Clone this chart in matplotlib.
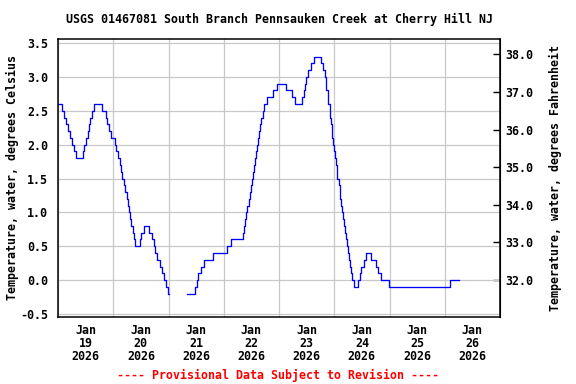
import datetime
import numpy as np
import matplotlib
matplotlib.use("Agg")
import matplotlib.pyplot as plt
import matplotlib.dates as mdates

# hours after 2026-01-19 00:00 at which each reading starts, and the reading (deg C)
seg1_hours = [0, 1.9, 2.7, 3.6, 4.5, 5.4, 6.2, 7.1, 8.0, 11.0, 11.5, 12.1, 12.9, 13.4,
              13.8, 14.7, 15.8, 19.3, 20.8, 21.5, 22.3, 23.1, 24.6, 25.3, 26.0, 26.8,
              27.2, 27.8, 28.5, 29.2, 29.8, 30.3, 30.7, 31.3, 31.7, 32.4, 33.0, 33.6,
              35.5, 36.1, 37.3, 39.4, 40.9, 41.7, 42.3, 43.2, 44.2, 45.2, 46.0, 47.0,
              47.9, 48.4]
seg1_temps = [2.6, 2.5, 2.4, 2.3, 2.2, 2.1, 2.0, 1.9, 1.8, 1.9, 2.0, 2.1, 2.2, 2.3,
              2.4, 2.5, 2.6, 2.5, 2.4, 2.3, 2.2, 2.1, 2.0, 1.9, 1.8, 1.7,
              1.6, 1.5, 1.4, 1.3, 1.2, 1.1, 1.0, 0.9, 0.8, 0.7, 0.6, 0.5,
              0.6, 0.7, 0.8, 0.7, 0.6, 0.5, 0.4, 0.3, 0.2, 0.1, 0.0, -0.1,
              -0.2, -0.2]

seg2_hours = [55.9, 59.5, 60.4, 60.9, 62.0, 63.3, 67.5, 73.3, 75.1, 80.4, 80.9, 81.3,
              81.7, 82.3, 82.9, 83.5, 83.8, 84.2, 84.7, 85.1, 85.5, 85.9, 86.4, 86.7,
              87.1, 87.7, 88.1, 89.0, 89.6, 91.0, 93.6, 95.1, 99.2, 101.8, 103.0, 106.2,
              106.8, 107.4, 107.9, 108.8, 110.0, 111.2, 114.1, 115.1, 115.8, 116.2, 116.6,
              117.1, 117.5, 118.0, 118.3, 118.6, 118.9, 119.2, 119.5, 120.0, 120.3, 120.7,
              121.0, 121.3, 121.9, 122.3, 122.6, 122.9, 123.5, 123.8, 124.1, 124.5, 125.1,
              125.5, 126.0, 126.2, 126.7, 127.1, 127.5, 128.7, 130.2, 131.0, 131.8, 133.0,
              134.0, 136.1, 138.0, 139.1, 140.5, 143.9, 170.4, 174.0]
seg2_temps = [-0.2, -0.1, 0.0, 0.1, 0.2, 0.3, 0.4, 0.5, 0.6, 0.7, 0.8, 0.9,
              1.0, 1.1, 1.2, 1.3, 1.4, 1.5, 1.6, 1.7, 1.8, 1.9, 2.0, 2.1,
              2.2, 2.3, 2.4, 2.5, 2.6, 2.7, 2.8, 2.9, 2.8, 2.7, 2.6, 2.7,
              2.8, 2.9, 3.0, 3.1, 3.2, 3.3, 3.2, 3.1, 3.0, 2.9, 2.8,
              2.7, 2.6, 2.5, 2.4, 2.3, 2.2, 2.1, 2.0, 1.9, 1.8, 1.7,
              1.6, 1.5, 1.4, 1.3, 1.2, 1.1, 1.0, 0.9, 0.8, 0.7, 0.6,
              0.5, 0.4, 0.3, 0.2, 0.1, 0.0, -0.1, 0.0, 0.1, 0.2, 0.3,
              0.4, 0.3, 0.2, 0.1, 0.0, -0.1, 0.0, 0.0]

start = datetime.datetime(2026, 1, 19)
day_labels = ["19", "20", "21", "22", "23", "24", "25", "26"]
left_ticks = [-0.5, 0.0, 0.5, 1.0, 1.5, 2.0, 2.5, 3.0, 3.5]
right_ticks = [32, 33, 34, 35, 36, 37, 38]

title = "USGS 01467081 South Branch Pennsauken Creek at Cherry Hill NJ"
font = dict(family="DejaVu Sans Mono", weight="bold", size=8.4)

fig = plt.figure(figsize=(5.76, 3.84), dpi=100)
ax = fig.add_axes([58 / 576, 1 - 317 / 384, 442 / 576, 278 / 384])

for hrs, temps in ((seg1_hours, seg1_temps), (seg2_hours, seg2_temps)):
    t = [start + datetime.timedelta(hours=h) for h in hrs]
    ax.plot(t, temps, drawstyle="steps-post", color="#0000ff", lw=0.95)

ax.set_xlim(start, start + datetime.timedelta(days=8))
ax.set_ylim(-0.544, 3.559)

# gridlines at midnight, labels at noon
ax.xaxis.set_major_locator(mdates.DayLocator())
ax.xaxis.set_major_formatter(plt.NullFormatter())
noons = [start + datetime.timedelta(days=i, hours=12) for i in range(len(day_labels))]
ax.set_xticks(noons, minor=True)
ax.set_xticklabels(["Jan\n%s\n2026" % d for d in day_labels], minor=True,
                   linespacing=1.0, **font)
ax.tick_params(axis="x", which="both", length=0, pad=5)
ax.set_yticks(left_ticks)
ax.set_yticklabels(["%.1f" % v for v in left_ticks], **font)
ax.tick_params(axis="y", length=0, pad=7)
ax.grid(True, which="major", color="#c8c8c8", lw=0.9)
ax.set_axisbelow(True)
for s in ax.spines.values():
    s.set_linewidth(1.1)

sec = ax.secondary_yaxis("right", functions=(lambda c: c * 9 / 5 + 32, lambda f: (f - 32) * 5 / 9))
sec.set_yticks(right_ticks)
sec.set_yticklabels(["%.1f" % v for v in right_ticks], **font)
sec.tick_params(direction="in", length=5, width=1, pad=4)
sec.set_ylabel("Temperature, water, degrees Fahrenheit", labelpad=11, **font)

ax.set_ylabel("Temperature, water, degrees Celsius", labelpad=1, **font)

fig.text(279 / 576, 1 - 19 / 384, title, ha="center", va="center", **font)
fig.text(278 / 576, 1 - 375 / 384, "---- Provisional Data Subject to Revision ----",
         ha="center", va="center", color="#ff0000", **font)

fig.savefig("out.png", dpi=100)
